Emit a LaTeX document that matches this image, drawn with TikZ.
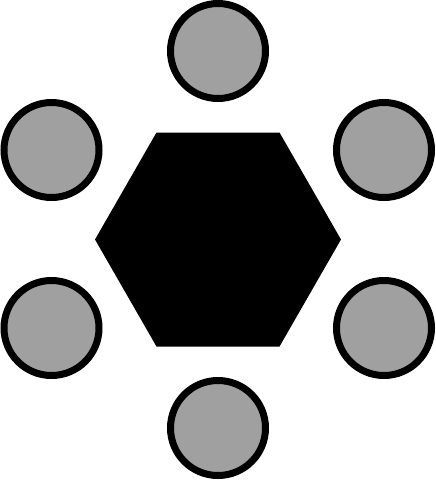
\documentclass[tikz,border=0pt]{standalone}
\usetikzlibrary{calc}
\definecolor{ballgray}{HTML}{A0A0A0}
\tikzset{
  ball/.style={circle, draw=black, fill=ballgray, line width=7pt, minimum size=95pt, inner sep=0pt},
}
\begin{document}
\begin{tikzpicture}[x=1pt,y=-1pt]
\useasboundingbox (0,0) rectangle (436,480);
\coordinate (hc) at (218,239.5);
\fill[black] ($(hc)+(-123,0)$) -- ($(hc)+(-61.5,-107)$) -- ($(hc)+(61.5,-107)$) -- ($(hc)+(123,0)$) -- ($(hc)+(61.5,107)$) -- ($(hc)+(-61.5,107)$) -- cycle;
\node[ball] (t) at (218,51) {};
\node[ball] (b) at (218,428) {};
\node[ball] (ul) at (51.5,150) {};
\node[ball] (ll) at (51.5,328) {};
\node[ball] (ur) at (384,150) {};
\node[ball] (lr) at (384,328) {};
\end{tikzpicture}
\end{document}
